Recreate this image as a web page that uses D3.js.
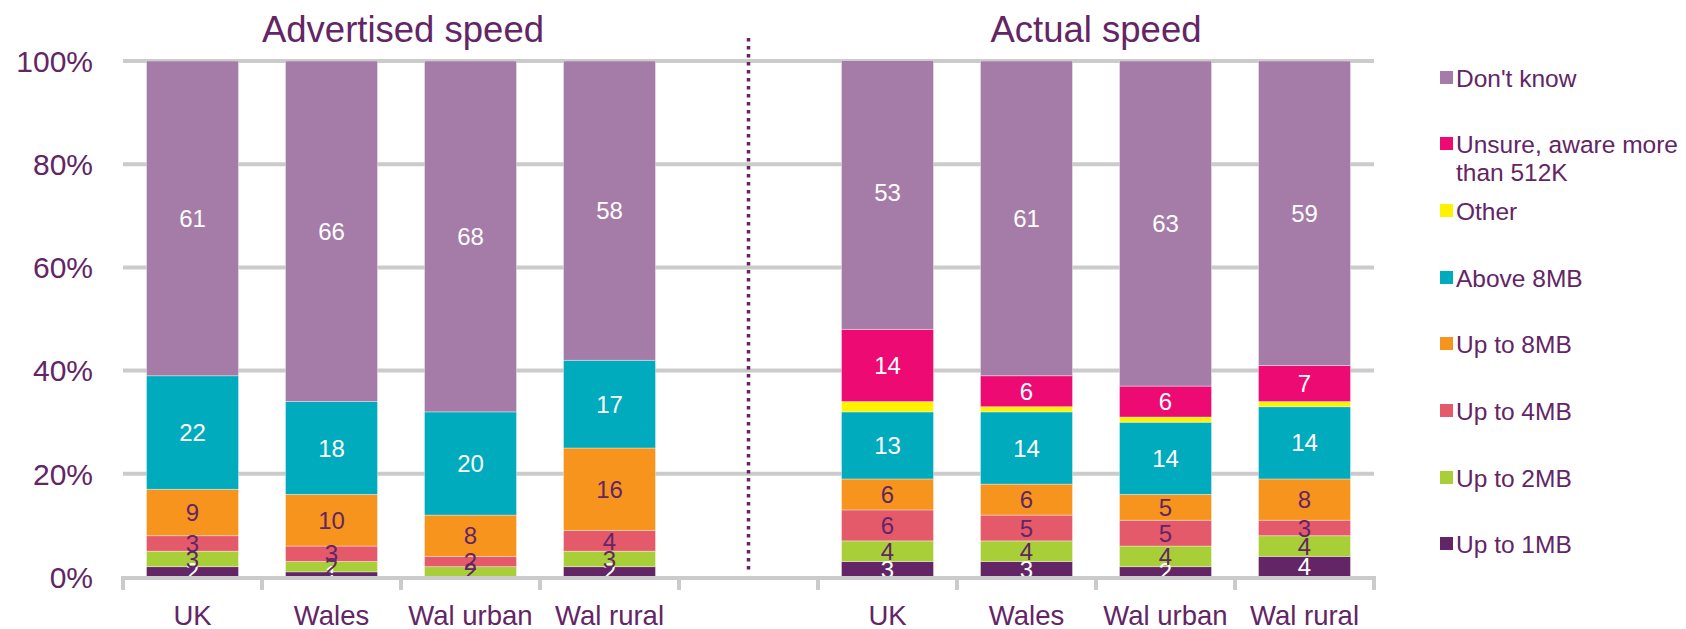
<!DOCTYPE html>
<html>
<head>
<meta charset="utf-8">
<script src="https://cdn.jsdelivr.net/npm/d3@7"></script>
<style>
  html, body { margin: 0; padding: 0; background: #fff; }
  svg { display: block; font-family: "Liberation Sans", Arial, sans-serif; }
</style>
</head>
<body>
<svg id="chart" width="1686" height="629"></svg>
<script>
// Broadband speed: advertised vs actual, % of respondents
const categories = ["UK", "Wales", "Wal urban", "Wal rural"];
const panels = ["Advertised speed", "Actual speed"];
const seriesNames = ["Up to 1MB", "Up to 2MB", "Up to 4MB", "Up to 8MB", "Above 8MB",
  "Other", "Unsure, aware more than 512K", "Don't know"];
const seriesColors = ["#632565", "#a8cf38", "#e55a6a", "#f7941d", "#00abbd",
  "#fff200", "#ed0a73", "#a57ca8"];
const labelColors = ["#ffffff", "#632565", "#632565", "#632565", "#ffffff",
  "#632565", "#ffffff", "#ffffff"];

// Advertised speed
const advUpTo1MB    = [2, 1, 0, 2];
const advUpTo2MB    = [3, 2, 2, 3];
const advUpTo4MB    = [3, 3, 2, 4];
const advUpTo8MB    = [9, 10, 8, 16];
const advAbove8MB   = [22, 18, 20, 17];
const advOther      = [0, 0, 0, 0];
const advUnsure     = [0, 0, 0, 0];
const advDontKnow   = [61, 66, 68, 58];

// Actual speed
const actUpTo1MB    = [3, 3, 2, 4];
const actUpTo2MB    = [4, 4, 4, 4];
const actUpTo4MB    = [6, 5, 5, 3];
const actUpTo8MB    = [6, 6, 5, 8];
const actAbove8MB   = [13, 14, 14, 14];
const actOther      = [2, 1, 1, 1];
const actUnsure     = [14, 6, 6, 7];
const actDontKnow   = [53, 61, 63, 59];

const yTicks = [0, 20, 40, 60, 80, 100];
const legendLines = [["Don't know"], ["Unsure, aware more", "than 512K"], ["Other"],
  ["Above 8MB"], ["Up to 8MB"], ["Up to 4MB"], ["Up to 2MB"], ["Up to 1MB"]];
const legendSeries = [7, 6, 5, 4, 3, 2, 1, 0];

const advSeries = [advUpTo1MB, advUpTo2MB, advUpTo4MB, advUpTo8MB, advAbove8MB, advOther, advUnsure, advDontKnow];
const actSeries = [actUpTo1MB, actUpTo2MB, actUpTo4MB, actUpTo8MB, actAbove8MB, actOther, actUnsure, actDontKnow];

// One row per bar; an empty slot separates the two panels
const rows = [];
categories.forEach((c, i) => {
  const r = { key: "adv|" + c, name: c };
  seriesNames.forEach((s, k) => r[s] = advSeries[k][i]);
  rows.push(r);
});
const gapKey = "gap";
categories.forEach((c, i) => {
  const r = { key: "act|" + c, name: c };
  seriesNames.forEach((s, k) => r[s] = actSeries[k][i]);
  rows.push(r);
});
const slotKeys = rows.slice(0, 4).map(d => d.key).concat([gapKey], rows.slice(4).map(d => d.key));

const purple = "#632565";
const grid = "#cbcbcb";
const svg = d3.select("#chart");

const x = d3.scaleBand().domain(slotKeys).range([123, 1374]).paddingInner(0.338).paddingOuter(0.169);
const y = d3.scaleLinear().domain([0, 100]).range([577, 61]);

// Gridlines
svg.append("g").selectAll("line").data(yTicks.filter(t => t > 0)).join("line")
  .attr("x1", 123).attr("x2", 1374)
  .attr("y1", d => y(d)).attr("y2", d => y(d))
  .attr("stroke", grid).attr("stroke-width", 4);

// Y axis labels
svg.append("g").selectAll("text").data(yTicks).join("text")
  .attr("x", 93).attr("y", d => y(d)).attr("dy", "0.36em")
  .attr("text-anchor", "end").attr("fill", purple)
  .style("font-size", "30px")
  .text(d => d + "%");

// Stacked bars, clipped at the 100% line
svg.append("defs").append("clipPath").attr("id", "plotClip")
  .append("rect").attr("x", 0).attr("y", y(100)).attr("width", 1686).attr("height", y(0) - y(100));

const stack = d3.stack().keys(seriesNames);
const stacked = stack(rows);

const bars = svg.append("g").attr("clip-path", "url(#plotClip)");
stacked.forEach((layer, k) => {
  bars.append("g").selectAll("rect").data(layer.filter(d => d[1] - d[0] > 0)).join("rect")
    .attr("x", d => x(d.data.key))
    .attr("width", x.bandwidth())
    .attr("y", d => y(d[1]))
    .attr("height", d => y(d[0]) - y(d[1]))
    .attr("fill", seriesColors[k])
    .attr("stroke", "#ffffff").attr("stroke-opacity", 0.45).attr("stroke-width", 0.8);
});

// Value labels (Other carries no label)
const labels = svg.append("g").style("font-size", "24px").attr("text-anchor", "middle");
stacked.forEach((layer, k) => {
  if (seriesNames[k] === "Other") return;
  labels.append("g").selectAll("text").data(layer.filter(d => d[1] - d[0] > 0)).join("text")
    .attr("x", d => x(d.data.key) + x.bandwidth() / 2)
    .attr("y", d => y((d[0] + d[1]) / 2))
    .attr("dy", "0.36em")
    .attr("fill", labelColors[k])
    .text(d => d[1] - d[0]);
});

// Category axis
const axisG = svg.append("g");
axisG.append("line").attr("x1", 121).attr("x2", 1376).attr("y1", 578).attr("y2", 578)
  .attr("stroke", grid).attr("stroke-width", 4);
const tickXs = slotKeys.map(k => x(k) - x.step() * x.paddingInner() / 2).concat([1374]);
axisG.selectAll("line.tick").data(tickXs).join("line").attr("class", "tick")
  .attr("x1", d => d).attr("x2", d => d).attr("y1", 576).attr("y2", 590)
  .attr("stroke", grid).attr("stroke-width", 4);
axisG.selectAll("text").data(rows).join("text")
  .attr("x", d => x(d.key) + x.bandwidth() / 2)
  .attr("y", 625)
  .attr("text-anchor", "middle").attr("fill", purple)
  .style("font-size", "27.5px")
  .text(d => d.name);

// Panel titles
const advCenter = (x(rows[0].key) + x(rows[3].key) + x.bandwidth()) / 2;
const actCenter = (x(rows[4].key) + x(rows[7].key) + x.bandwidth()) / 2;
svg.append("g").selectAll("text").data(panels).join("text")
  .attr("x", (d, i) => i === 0 ? advCenter + 2 : actCenter)
  .attr("y", 42)
  .attr("text-anchor", "middle").attr("fill", purple)
  .style("font-size", "36.5px")
  .text(d => d);

// Dotted divider between panels
const gapX = x(gapKey) + x.bandwidth() / 2;
svg.append("line").attr("x1", gapX).attr("x2", gapX).attr("y1", 38).attr("y2", 570)
  .attr("stroke", purple).attr("stroke-width", 3.5).attr("stroke-dasharray", "3.5,4.5");

// Legend
const legend = svg.append("g").attr("fill", purple).style("font-size", "24.5px");
const legendY = [78, 144, 211, 278, 344, 411, 478, 544];
legendLines.forEach((lines, i) => {
  const g = legend.append("g").attr("transform", `translate(1440,${legendY[i]})`);
  g.append("rect").attr("x", 0).attr("y", -7).attr("width", 13).attr("height", 13)
    .attr("fill", seriesColors[legendSeries[i]]);
  lines.forEach((t, j) => {
    g.append("text").attr("x", 16).attr("y", j * 28).attr("dy", "0.36em").text(t);
  });
});
</script>
</body>
</html>
